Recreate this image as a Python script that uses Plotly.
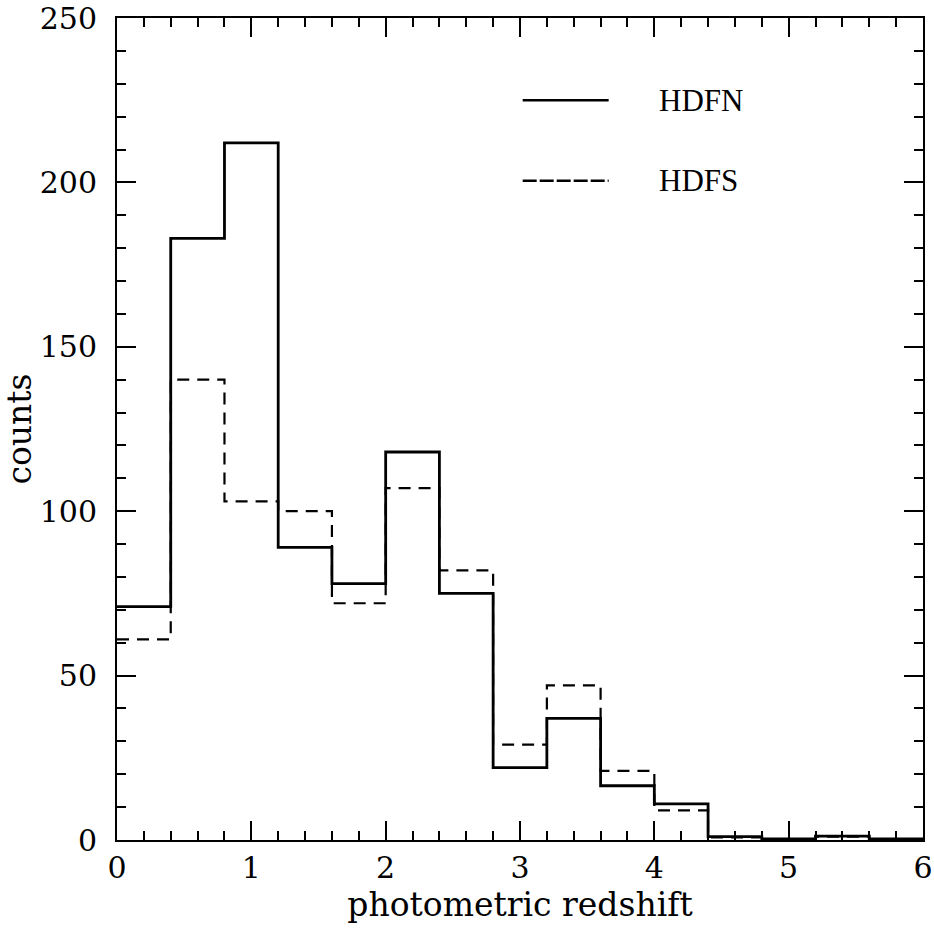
import plotly.graph_objects as go

# bin edges (photometric redshift), width 0.4 from 0 to 6
bin_edges = [0.0, 0.4, 0.8, 1.2, 1.6, 2.0, 2.4, 2.8, 3.2, 3.6, 4.0, 4.4, 4.8, 5.2, 5.6, 6.0]
hdfn_counts = [71, 183, 212, 89, 78, 118, 75, 22, 37, 16.5, 11, 1, 0.3, 1.2, 0.3]
hdfs_counts = [61, 140, 103, 100, 72, 107, 82, 29, 47, 21, 9, 0.8, 0.3, 1, 0.3]

x_ticks = [0, 1, 2, 3, 4, 5, 6]
y_ticks = [0, 50, 100, 150, 200, 250]

SERIF = "DejaVu Serif"

def step_y(vals):
    return list(vals) + [vals[-1]]

fig = go.Figure()
fig.add_trace(go.Scatter(
    x=bin_edges, y=step_y(hdfs_counts), mode="lines", line_shape="hv",
    line=dict(color="black", width=2.2, dash="12px,8px"), name="HDFS", showlegend=False))
fig.add_trace(go.Scatter(
    x=bin_edges, y=step_y(hdfn_counts), mode="lines", line_shape="hv",
    line=dict(color="black", width=2.8), name="HDFN", showlegend=False))

# legend drawn in data space like the original
legend_items = [("HDFN", 225, "solid"), ("HDFS", 200.5, "14px,3px")]
for label, yv, dash in legend_items:
    fig.add_shape(type="line", x0=3.02, x1=3.66, y0=yv, y1=yv, xref="x", yref="y",
                  line=dict(color="black", width=2.6, dash=dash))
    fig.add_annotation(x=4.02, y=yv, xref="x", yref="y", text=label, showarrow=False,
                       xanchor="left", yanchor="middle",
                       font=dict(family="Liberation Serif", size=31, color="black"))

axis_common = dict(
    showgrid=False, zeroline=False, showline=True, linecolor="black", linewidth=2,
    mirror="allticks", ticks="inside", tickcolor="black", tickwidth=2,
    tickfont=dict(family=SERIF, size=30, color="black"),
    ticklabeloverflow="allow", automargin=False,
)

fig.update_xaxes(
    range=[0, 6], tickvals=x_ticks, ticklen=19,
    minor=dict(dtick=0.2, ticks="inside", ticklen=9, tickcolor="black", tickwidth=2),
    title=dict(text="photometric redshift", font=dict(family=SERIF, size=33, color="black"), standoff=2),
    **axis_common)
fig.update_yaxes(
    range=[0, 250], tickvals=y_ticks, ticklen=19,
    minor=dict(dtick=10, ticks="inside", ticklen=9, tickcolor="black", tickwidth=2),
    ticklabelstandoff=12,
    title=dict(text="counts", font=dict(family=SERIF, size=33, color="black"), standoff=0),
    **axis_common)

fig.update_layout(
    width=934, height=932,
    margin=dict(l=117, r=11, t=18, b=92),
    paper_bgcolor="white", plot_bgcolor="white",
    showlegend=False,
)

fig.write_html("out.html")
